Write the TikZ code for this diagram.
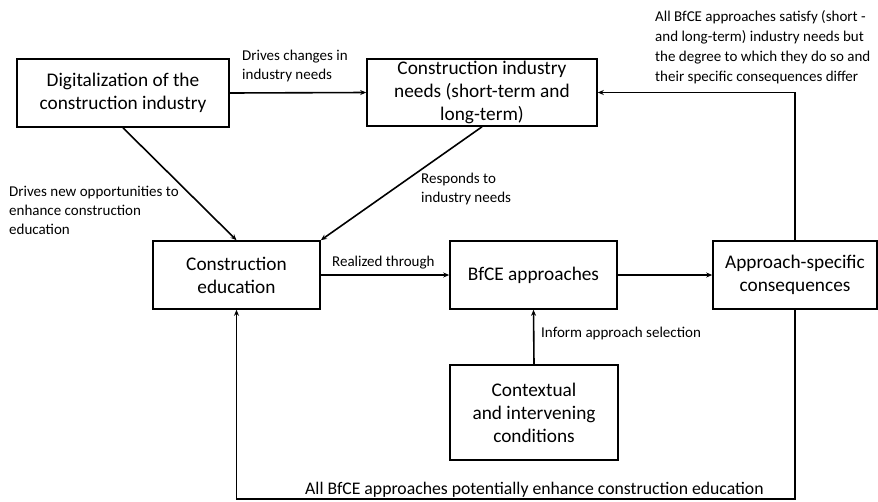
\documentclass[tikz,border=0pt]{standalone}
\usepackage{fontspec}
\setmainfont{Carlito}
\usetikzlibrary{arrows.meta}
\begin{document}
\begin{tikzpicture}[x=1pt,y=-1pt,
  box/.style={draw,line width=1.6pt,inner sep=0pt,align=center,
    font=\fontsize{19.3}{23}\selectfont},
  lbl/.style={inner sep=0pt,align=left,anchor=west,
    font=\fontsize{15}{19}\selectfont},
  link/.style={line width=1.6pt,-{Stealth[length=6pt,width=5pt]}}]
\useasboundingbox (0,0) rectangle (878,501);

% boxes
\node[box,minimum width=212pt,minimum height=68pt] (dig) at (123,93)
  {Digitalization of the\\construction industry};
\node[box,minimum width=230pt,minimum height=67pt] (needs) at (482,92.5)
  {Construction industry\\needs (short-term and\\long-term)};
\node[box,minimum width=167pt,minimum height=68pt] (edu) at (236.5,275)
  {Construction\\education};
\node[box,minimum width=167pt,minimum height=68pt] (bfce) at (533.5,275)
  {BfCE approaches};
\node[box,minimum width=164pt,minimum height=68pt] (cons) at (795,275)
  {Approach-specific\\consequences};
\node[box,minimum width=168pt,minimum height=95pt] (ctx) at (534,412.5)
  {Contextual\\and intervening\\conditions};

% connectors
\draw[link] (dig.east) -- (needs.west);
\draw[link] (dig.south) -- (edu.north);
\draw[link] (needs.south) -- (edu.north east);
\draw[link] (edu.east) -- (bfce.west);
\draw[link] (bfce.east) -- (cons.west);
\draw[link] (ctx.north) -- (bfce.south);
\draw[link] (cons.north) |- (needs.east);
\coordinate (loopcorner) at (795,499);
\draw[link] (cons.south) -- (loopcorner) -| (edu.south);

% labels
\node[lbl] (l1) at (242,66) {Drives changes in\\industry needs};
\node[lbl] (l2) at (9,210.5) {Drives new opportunities to\\enhance construction\\education};
\node[lbl] (l3) at (421,188.5) {Responds to\\industry needs};
\node[lbl] (l4) at (332,263) {Realized through};
\node[lbl] (l5) at (541,333) {Inform approach selection};
\node[lbl,font=\fontsize{17.7}{21}\selectfont] (l6) at (305,490)
  {All BfCE approaches potentially enhance construction education};
\node[lbl,font=\fontsize{15}{20}\selectfont] (l7) at (655,47)
  {All BfCE approaches satisfy (short -\\and long-term) industry needs but\\the degree to which they do so and\\their specific consequences differ};
\end{tikzpicture}
\end{document}
